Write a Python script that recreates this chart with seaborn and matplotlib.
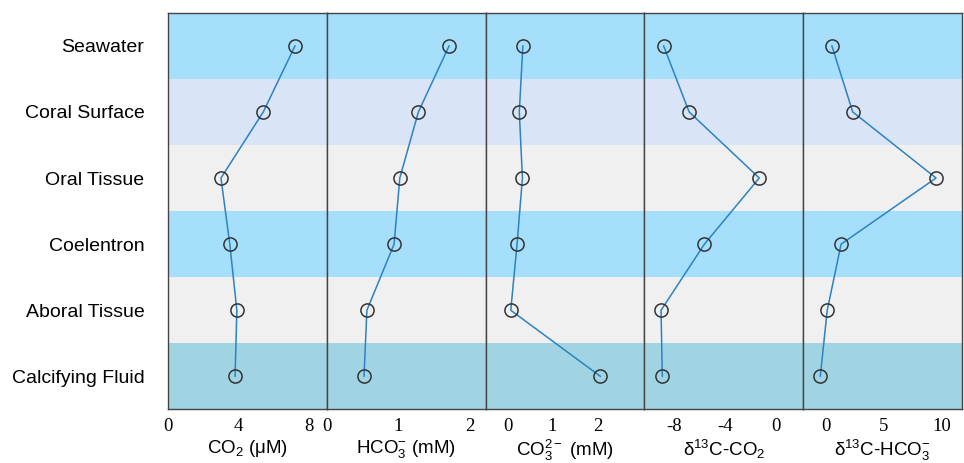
import numpy as np
import pandas as pd
import matplotlib
matplotlib.use("Agg")
import matplotlib.pyplot as plt
import seaborn as sns

# Sites, top to bottom
sites = ["Seawater", "Coral Surface", "Oral Tissue", "Coelentron",
         "Aboral Tissue", "Calcifying Fluid"]
band_colors = ["#a6dffb", "#d9e5f7", "#f0f0f0", "#a6dffb", "#f0f0f0", "#a0d4e3"]

# Values
co2 = [7.2, 5.4, 3.0, 3.5, 3.9, 3.8]             # uM
hco3 = [1.71, 1.28, 1.02, 0.94, 0.56, 0.52]      # mM
co3 = [0.34, 0.26, 0.33, 0.21, 0.07, 2.07]       # mM
d13c_co2 = [-8.8, -6.8, -1.3, -5.6, -9.0, -8.9]
d13c_hco3 = [0.5, 2.3, 9.5, 1.3, 0.1, -0.5]

labels = ["CO$_2$ (μM)", "HCO$_3^{-}$ (mM)", "CO$_3^{2-}$ (mM)",
          "δ$^{13}$C-CO$_2$", "δ$^{13}$C-HCO$_3^{-}$"]
xticks = [[0, 4, 8], [0, 1, 2], [0, 1, 2], [-8, -4, 0], [0, 5, 10]]
xlims = [(0, 9.0), (0, 2.22), (-0.49, 3.05), (-10.3, 2.15), (-1.97, 11.75)]

series = [co2, hco3, co3, d13c_co2, d13c_hco3]

sns.set_style("white")
plt.rcParams['font.family'] = ['Liberation Sans', 'DejaVu Sans']
plt.rcParams['text.color'] = 'black'
plt.rcParams['axes.labelcolor'] = 'black'
plt.rcParams['xtick.labelcolor'] = 'black'
plt.rcParams['ytick.labelcolor'] = 'black'
plt.rcParams['mathtext.fontset'] = 'custom'
plt.rcParams['mathtext.rm'] = 'Liberation Sans'
plt.rcParams['mathtext.it'] = 'Liberation Sans'
plt.rcParams['mathtext.bf'] = 'Liberation Sans:bold'

fig, axes = plt.subplots(1, 5, figsize=(9.64, 4.63), dpi=100, sharey=True)
fig.subplots_adjust(left=0.1743, right=0.998, top=0.9726, bottom=0.1156, wspace=0)

pos = np.arange(len(sites))
for ax, vals, lab, ticks, lim in zip(axes, series, labels, xticks, xlims):
    for i, c in enumerate(band_colors):
        ax.axhspan(i - 0.5, i + 0.5, color=c, lw=0, zorder=0)
    df = pd.DataFrame({"value": vals, "pos": pos})
    sns.lineplot(data=df, x="value", y="pos", orient="y", sort=False, ax=ax,
                 color="#2b82c4", lw=1.1, marker="o", markersize=9.5,
                 markerfacecolor="none", markeredgecolor="#333333",
                 markeredgewidth=1.1, zorder=3)
    ax.set_xlim(*lim)
    ax.set_ylim(5.5, -0.5)
    ax.set_xticks(ticks)
    ax.set_xticklabels([str(t) for t in ticks], family="Liberation Serif", fontsize=13.5)
    ax.tick_params(axis="x", direction="in", length=3, width=0.8, color="#444444", pad=6)
    ax.tick_params(axis="y", length=0)
    ax.set_xlabel(lab, fontsize=13.5, labelpad=2)
    ax.set_ylabel("")
    for s in ax.spines.values():
        s.set_color("#444444")
        s.set_linewidth(1.0)

axes[0].set_yticks(pos)
axes[0].set_yticklabels(sites, fontsize=14)
axes[0].tick_params(axis="y", pad=17)

fig.savefig("out.png", dpi=100)
